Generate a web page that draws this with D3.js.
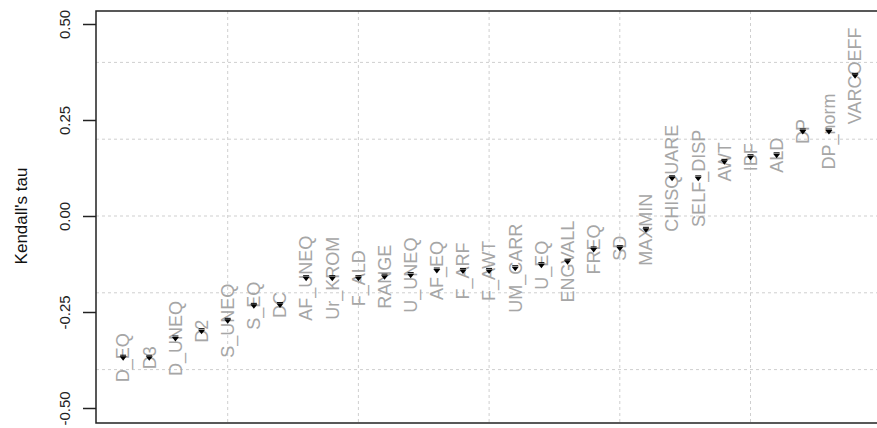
<!DOCTYPE html>
<html><head><meta charset="utf-8">
<script src="https://cdn.jsdelivr.net/npm/d3@7"></script>
<style>body{margin:0;background:#fff;}svg{display:block;}</style>
</head><body>
<svg id="c" width="877" height="428"></svg>
<script>
const labels = ["D_EQ","D3","D_UNEQ","D2","S_UNEQ","S_EQ","DC","AF_UNEQ","Ur_KROM","F_ALD","RANGE","U_UNEQ","AF_EQ","F_ARF","F_AWT","UM_CARR","U_EQ","ENGVALL","FREQ","SD","MAXMIN","CHISQUARE","SELF_DISP","AWT","IBF","ALD","DP","DP_norm","VARCOEFF"];
const tau = [-0.369,-0.369,-0.319,-0.300,-0.273,-0.234,-0.232,-0.162,-0.162,-0.162,-0.158,-0.154,-0.142,-0.143,-0.143,-0.136,-0.128,-0.119,-0.087,-0.084,-0.036,0.098,0.098,0.141,0.153,0.158,0.220,0.220,0.365];
const yTicks = [-0.5,-0.25,0,0.25,0.5];
const yTickLabels = ["-0.50","-0.25","0.00","0.25","0.50"];
const yGrid = [-0.4,-0.2,0,0.2,0.4];
const xGrid = [5,10,15,20,25];

(function(){
const svg = d3.select("#c");
const pLeft = 96, pTop = 11, pBottom = 423;
const x = d3.scaleLinear().domain([0,30]).range([97, 97+30*26.14]);
const y = d3.scaleLinear().domain([-0.5,0.5]).range([408,24]);

// grid
svg.append("g").selectAll("line").data(yGrid).join("line")
  .attr("x1", pLeft).attr("x2", 877).attr("y1", d=>y(d)).attr("y2", d=>y(d))
  .attr("stroke","#cfcfcf").attr("stroke-width",1).attr("stroke-dasharray","3,3");
svg.append("g").selectAll("line").data(xGrid).join("line")
  .attr("x1", d=>x(d)).attr("x2", d=>x(d)).attr("y1", pTop).attr("y2", pBottom)
  .attr("stroke","#cfcfcf").attr("stroke-width",1).attr("stroke-dasharray","3,3");

// box
svg.append("path").attr("d", `M880,${pTop}H${pLeft}V${pBottom}H880`)
  .attr("fill","none").attr("stroke","#222").attr("stroke-width",1.5);

// y axis
const ax = svg.append("g").attr("transform",`translate(${pLeft},0)`)
  .call(d3.axisLeft(y).tickValues(yTicks).tickFormat((d,i)=>yTickLabels[i]).tickSize(13).tickSizeOuter(0));
ax.select(".domain").remove();
ax.selectAll(".tick line").attr("stroke","#222").attr("stroke-width",1.5);
ax.selectAll(".tick text")
  .attr("x",0)
  .attr("transform","translate(-31,0) rotate(-90)")
  .attr("text-anchor","middle").attr("dy","0.35em")
  .attr("font-family","Liberation Sans, Arial, sans-serif").attr("font-size",15).attr("fill","#222");

// y title
svg.append("text").attr("transform",`translate(21,${y(0)}) rotate(-90)`)
  .attr("text-anchor","middle").attr("dy","0.35em")
  .attr("font-family","Liberation Sans, Arial, sans-serif").attr("font-size",17).attr("fill","#111")
  .text("Kendall's tau");

// labels
svg.append("g").selectAll("text").data(labels).join("text")
  .attr("transform",(d,i)=>`translate(${x(i+1)},${y(tau[i])}) rotate(-90)`)
  .attr("text-anchor","middle").attr("dy","0.35em")
  .attr("font-family","Liberation Sans, Arial, sans-serif").attr("font-size",18).attr("fill","#a6a6a6")
  .text(d=>d);

// markers
const m = svg.append("g");
m.selectAll("path").data(tau).join("path")
  .attr("d",(d,i)=>{const cx=x(i+1), cy=y(d); return `M${cx-3.5},${cy-1.5}L${cx+3.5},${cy-1.5}L${cx},${cy+3}Z`;})
  .attr("fill","#000");
m.selectAll("line").data(tau).join("line")
  .attr("x1",(d,i)=>x(i+1)-3).attr("x2",(d,i)=>x(i+1)+3)
  .attr("y1",d=>y(d)-2.5).attr("y2",d=>y(d)-2.5)
  .attr("stroke","#000").attr("stroke-width",1);
})();
</script>
</body></html>
